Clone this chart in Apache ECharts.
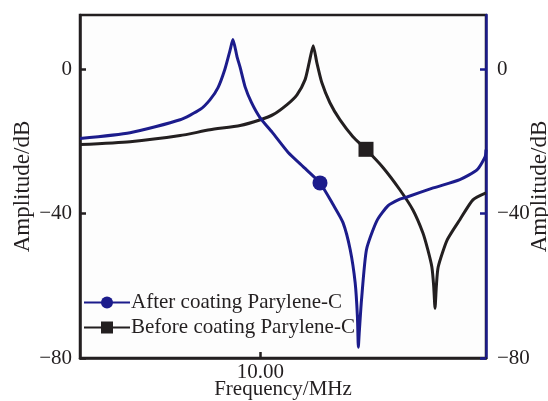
<!DOCTYPE html>
<html>
<head>
<meta charset="utf-8">
<script src="https://cdn.jsdelivr.net/npm/echarts@6/dist/echarts.min.js"></script>
<style>
  html, body { margin: 0; padding: 0; background: #fff; }
  #chart { width: 548px; height: 401px; }
</style>
</head>
<body>
<div id="chart"></div>
<script>
// frequency (MHz) / amplitude (dB) pairs
const afterCoating = [
  [9.600, -19.2], [9.711, -17.6], [9.822, -14.0], [9.866, -11.2], [9.888, -8.5],
  [9.906, -5.1], [9.921, -0.1], [9.933, 5.4], [9.939, 8.2], [9.948, 3.5],
  [9.955, 0.5], [9.966, -4.9], [9.980, -9.2], [9.999, -13.4], [10.028, -17.8],
  [10.061, -23.0], [10.099, -27.5], [10.132, -31.5], [10.161, -37.5], [10.183, -42.5],
  [10.199, -50.0], [10.210, -59.2], [10.215, -68.6], [10.217, -77.0], [10.219, -73.0],
  [10.224, -64.0], [10.235, -50.0], [10.258, -42.0], [10.283, -37.8], [10.309, -36.0],
  [10.325, -35.4], [10.383, -32.9], [10.442, -30.6], [10.480, -27.9], [10.498, -24.3],
  [10.500, -22.3]
];
const beforeCoating = [
  [9.600, -20.9], [9.711, -20.1], [9.822, -18.4], [9.888, -16.8], [9.955, -15.6],
  [10.000, -14.0], [10.028, -12.6], [10.059, -9.8], [10.081, -7.1], [10.099, -2.9],
  [10.108, 1.8], [10.117, 6.5], [10.125, 1.8], [10.136, -3.7], [10.154, -9.3],
  [10.176, -14.0], [10.205, -18.7], [10.234, -22.2], [10.272, -27.3], [10.309, -33.4],
  [10.338, -39.0], [10.360, -45.3], [10.371, -50.0], [10.380, -54.8], [10.384, -60.0],
  [10.387, -66.2], [10.390, -60.0], [10.394, -54.8], [10.414, -47.3], [10.442, -41.7],
  [10.471, -36.2], [10.500, -34.3]
];
const afterMarker = [10.132, -31.5];
const beforeMarker = [10.234, -22.2];
const xTicks = [10];
const yTicks = [-80, -40, 0];

const navy = '#1c1c8c';
const ink = '#231f20';
const serif = 'Liberation Serif';
const minus = v => String(v).replace('-', '\u2212');

const chart = echarts.init(document.getElementById('chart'));
const option = {
  animation: false,
  backgroundColor: '#fff',
  grid: {
    left: 80, right: 62, top: 15, bottom: 43,
    outerBoundsMode: 'none',
    show: true, borderColor: ink, borderWidth: 2.5, backgroundColor: '#fdfdfd'
  },
  legend: {
    orient: 'vertical',
    left: 82, top: 291,
    itemWidth: 46, itemHeight: 15, itemGap: 4,
    padding: [1, 4, 1, 1],
    textStyle: { fontFamily: serif, fontSize: 21, color: ink, padding: [0, 0, 0, -4] },
    data: ['After coating Parylene-C', 'Before coating Parylene-C']
  },
  xAxis: {
    type: 'value', min: 9.6, max: 10.5,
    name: 'Frequency/MHz', nameLocation: 'middle', nameGap: 21, nameMoveOverlap: false,
    nameTextStyle: { fontFamily: serif, fontSize: 21, color: ink },
    splitLine: { show: false },
    axisLine: { onZero: false, lineStyle: { color: ink, width: 2.5 } },
    axisTick: { inside: true, length: 6, lineStyle: { color: ink, width: 2.5 }, customValues: xTicks },
    axisLabel: {
      fontFamily: serif, fontSize: 21, color: ink, margin: 4,
      customValues: xTicks, formatter: v => v.toFixed(2)
    }
  },
  yAxis: [
    {
      type: 'value', min: -80, max: 15, position: 'left',
      name: 'Amplitude/dB', nameLocation: 'middle', nameGap: 46, nameRotate: 90, nameMoveOverlap: false,
      nameTextStyle: { fontFamily: serif, fontSize: 23, color: ink },
      splitLine: { show: false },
      axisLine: { onZero: false, lineStyle: { color: ink, width: 2.5 } },
      axisTick: { inside: true, length: 6, lineStyle: { color: ink, width: 2.5 }, customValues: yTicks },
      axisLabel: { fontFamily: serif, fontSize: 21, color: ink, margin: 8, customValues: yTicks, formatter: minus }
    },
    {
      type: 'value', min: -80, max: 15, position: 'right',
      name: 'Amplitude/dB', nameLocation: 'middle', nameGap: 42, nameRotate: 90, nameMoveOverlap: false,
      nameTextStyle: { fontFamily: serif, fontSize: 23, color: ink },
      splitLine: { show: false },
      axisLine: { onZero: false, lineStyle: { color: navy, width: 2.5 } },
      axisTick: { inside: true, length: 6, lineStyle: { color: navy, width: 2.5 }, customValues: yTicks },
      axisLabel: { fontFamily: serif, fontSize: 21, color: ink, margin: 11, customValues: yTicks, formatter: minus }
    }
  ],
  series: [
    {
      name: 'After coating Parylene-C',
      type: 'line',
      data: afterCoating,
      smooth: 0.2,
      showSymbol: false,
      symbol: 'circle',
      lineStyle: { color: navy, width: 3 },
      itemStyle: { color: navy },
      markPoint: {
        symbol: 'circle', symbolSize: 15, label: { show: false },
        itemStyle: { color: navy },
        data: [{ coord: afterMarker }]
      },
      z: 3
    },
    {
      name: 'Before coating Parylene-C',
      type: 'line',
      data: beforeCoating,
      smooth: 0.2,
      showSymbol: false,
      symbol: 'rect',
      lineStyle: { color: ink, width: 3 },
      itemStyle: { color: ink },
      markPoint: {
        symbol: 'rect', symbolSize: 15, label: { show: false },
        itemStyle: { color: ink },
        data: [{ coord: beforeMarker }]
      },
      z: 2
    }
  ]
};
chart.setOption(option);
</script>
</body>
</html>
